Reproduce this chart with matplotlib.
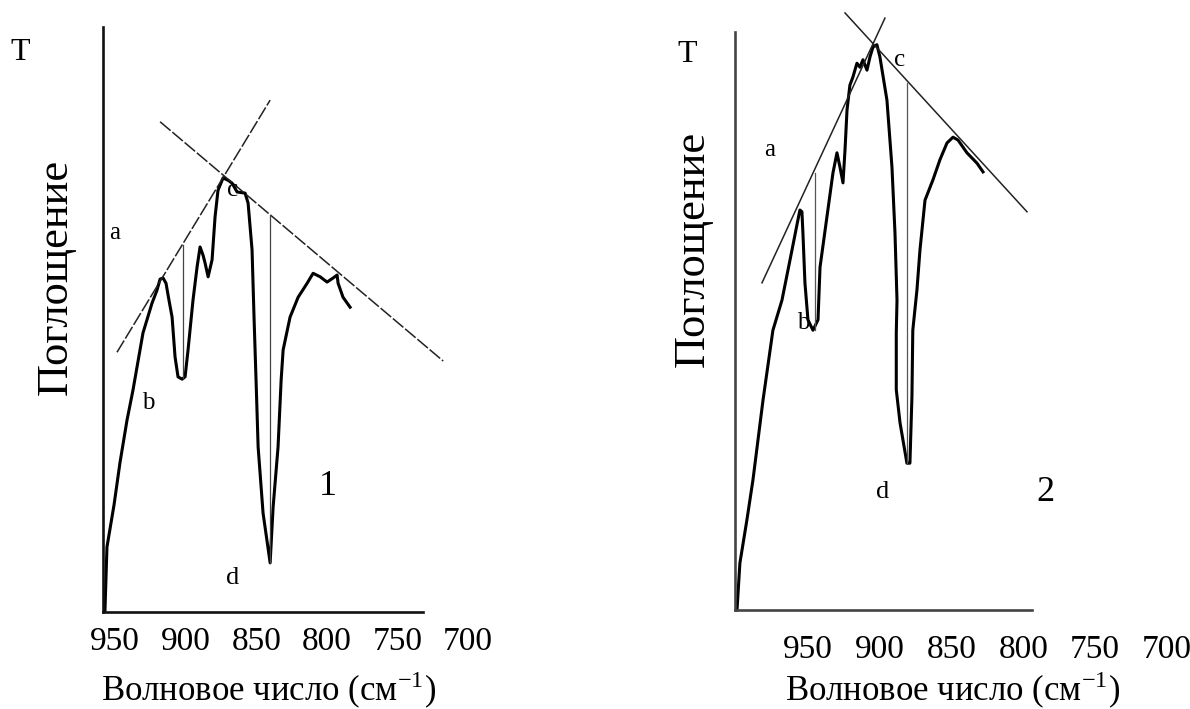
import matplotlib
matplotlib.use("Agg")
from matplotlib import pyplot as plt
from matplotlib import transforms

plt.rcParams['font.family'] = ['Liberation Serif', 'DejaVu Serif']
plt.rcParams['mathtext.fontset'] = 'stix'

# ---- spectrum 1 (wavenumber, absorbance in arbitrary units 0..100)
w1 = [957.1, 955.7, 950.7, 946.5, 941.5, 937.3, 930.2, 923.8, 920.3, 918.1,
      916.0, 913.9, 911.8, 909.6, 907.5, 905.4, 902.5, 900.4, 898.3, 894.8,
      891.9, 889.8, 887.7, 886.3, 884.1, 881.3, 879.2, 877.1, 873.5, 870.0,
      867.1, 863.6, 857.9, 855.8, 853.0, 851.6, 850.1, 848.7, 845.2, 840.2,
      838.1, 834.6, 832.4, 831.0, 826.1, 820.4, 814.0, 809.8, 804.8, 799.9,
      795.6, 792.8, 792.1, 788.6, 783.6]
a1 = [0.3, 11.1, 18.3, 25.5, 32.8, 37.9, 47.7, 52.8, 55.0, 56.9,
      57.1, 56.2, 53.3, 50.4, 43.6, 40.2, 39.8, 40.2, 44.8, 53.3,
      59.0, 62.4, 61.0, 59.7, 57.3, 60.2, 67.5, 72.1, 74.2, 73.8,
      73.3, 71.8, 71.6, 69.9, 61.9, 50.4, 39.1, 28.2, 16.9, 8.4,
      17.9, 28.2, 39.7, 44.8, 50.4, 53.8, 56.2, 57.9, 57.3, 56.4,
      57.1, 57.6, 56.2, 53.8, 52.1]
# baseline tangents and peak-height lines, spectrum 1
tan1_up = ([948.6, 840.2], [44.4, 87.5])
tan1_down = ([918.1, 717.7], [83.8, 42.9])
drop1 = [(901.8, 62.7, 40.0), (840.2, 67.9, 8.4)]

# ---- spectrum 2
w2 = [999.4, 997.4, 992.5, 988.3, 981.3, 974.4, 968.1, 961.1, 957.7, 955.6,
      954.2, 953.5, 952.1, 950.0, 946.5, 943.0, 941.6, 936.8, 932.6, 929.8,
      927.7, 925.6, 924.2, 922.8, 920.8, 918.7, 915.9, 913.8, 911.7, 908.9,
      906.8, 904.7, 902.0, 899.9, 895.0, 891.5, 889.4, 888.0, 888.5, 888.5,
      885.9, 881.1, 879.0, 877.6, 877.0, 874.1, 872.0, 868.5, 863.0, 858.1,
      853.2, 849.0, 845.5, 839.3, 832.3, 828.1]
a2 = [0.0, 8.1, 15.6, 22.5, 36.3, 48.4, 53.6, 62.3, 66.6, 69.2,
      68.9, 65.2, 56.6, 50.2, 48.4, 50.2, 59.3, 68.0, 75.6, 79.1,
      76.6, 73.9, 79.6, 86.5, 90.8, 92.2, 94.6, 93.9, 95.2, 93.4,
      95.7, 97.4, 97.8, 95.7, 88.2, 76.6, 65.2, 53.6, 47.9, 38.1,
      32.4, 25.4, 25.4, 36.9, 48.4, 55.4, 62.3, 70.9, 74.4, 77.9,
      80.8, 81.8, 81.3, 79.1, 77.3, 75.8]
tan2_up = ([982.0, 896.4], [56.6, 102.4])
tan2_down = ([924.2, 797.5], [103.3, 68.9])
drop2 = [(945.1, 75.6, 48.4), (881.1, 91.2, 25.4)]

tick_vals = [950, 900, 850, 800, 750, 700]
xlabel = 'Волновое число (см$^{\\mathregular{-1}}$)'
ylabel = 'Поглощение'

fig = plt.figure(figsize=(11.9, 7.09), dpi=100)
W, H = 1190.0, 709.0

def make_ax(l, r, b, t, xlim, spine_col):
    ax = fig.add_axes([l / W, 1 - b / H, (r - l) / W, (b - t) / H])
    ax.set_xlim(*xlim)
    ax.set_ylim(0, 100)
    for s in ['top', 'right']:
        ax.spines[s].set_visible(False)
    for s in ['left', 'bottom']:
        ax.spines[s].set_linewidth(1.9)
        ax.spines[s].set_color(spine_col)
    ax.set_xticks([])
    ax.set_yticks([])
    return ax

ax1 = make_ax(103, 423, 612, 27, (958.5, 732), '#111111')
ax2 = make_ax(735, 1032, 610, 32, (1000.8, 794), '#444444')

# panel 1
ax1.plot(w1, a1, color='black', lw=2.2, clip_on=False, solid_joinstyle='round')
ax1.plot(*tan1_up, color='#222222', lw=1.1, ls=(0, (9, 1.5)), clip_on=False)
ax1.plot(*tan1_down, color='#222222', lw=1.1, ls=(0, (9, 1.5)), clip_on=False)
for x, y0, y1 in drop1:
    ax1.plot([x, x], [y0, y1], color='#444444', lw=0.9, clip_on=False)

# panel 2
ax2.plot(w2, a2, color='black', lw=2.2, clip_on=False, solid_joinstyle='round')
ax2.plot(*tan2_up, color='#222222', lw=1.1, clip_on=False)
ax2.plot(*tan2_down, color='#222222', lw=1.1, clip_on=False)
for x, y0, y1 in drop2:
    ax2.plot([x, x], [y0, y1], color='#555555', lw=0.9, clip_on=False)

# tick numbers (drawn as text since some fall past the axis end)
for ax, ypos in [(ax1, -0.051), (ax2, -0.069)]:
    tr = transforms.blended_transform_factory(ax.transData, ax.transAxes)
    for v in tick_vals:
        ax.text(v, ypos, str(v), transform=tr, ha='center', va='center',
                fontsize=24, clip_on=False)

fig.text(269 / W, 1 - 690 / H, xlabel, ha='center', va='center', fontsize=25)
fig.text(953 / W, 1 - 690 / H, xlabel, ha='center', va='center', fontsize=25)
fig.text(56 / W, 1 - 277 / H, ylabel, rotation=90, ha='center', va='center', fontsize=32)
fig.text(693 / W, 1 - 249 / H, ylabel, rotation=90, ha='center', va='center', fontsize=32)
fig.text(20 / W, 1 - 53 / H, 'T', ha='center', va='center', fontsize=23)
fig.text(687 / W, 1 - 55 / H, 'T', ha='center', va='center', fontsize=23)

# point labels
for ax, lab, x, y, fs in [(ax1, 'a', 950.0, 64.8, 18), (ax1, 'b', 926.6, 35.7, 18),
                          (ax1, 'c', 867.1, 72.1, 18), (ax1, 'd', 866.4, 5.8, 19),
                          (ax1, '1', 799.1, 21.4, 26),
                          (ax2, 'a', 976.5, 79.6, 18), (ax2, 'b', 953.5, 49.7, 18),
                          (ax2, 'c', 885.9, 95.2, 18), (ax2, 'd', 897.8, 20.4, 19),
                          (ax2, '2', 784.9, 20.4, 26)]:
    ax.text(x, y, lab, ha='center', va='center', fontsize=fs, clip_on=False)

fig.savefig('out.png', dpi=100, facecolor='white')
